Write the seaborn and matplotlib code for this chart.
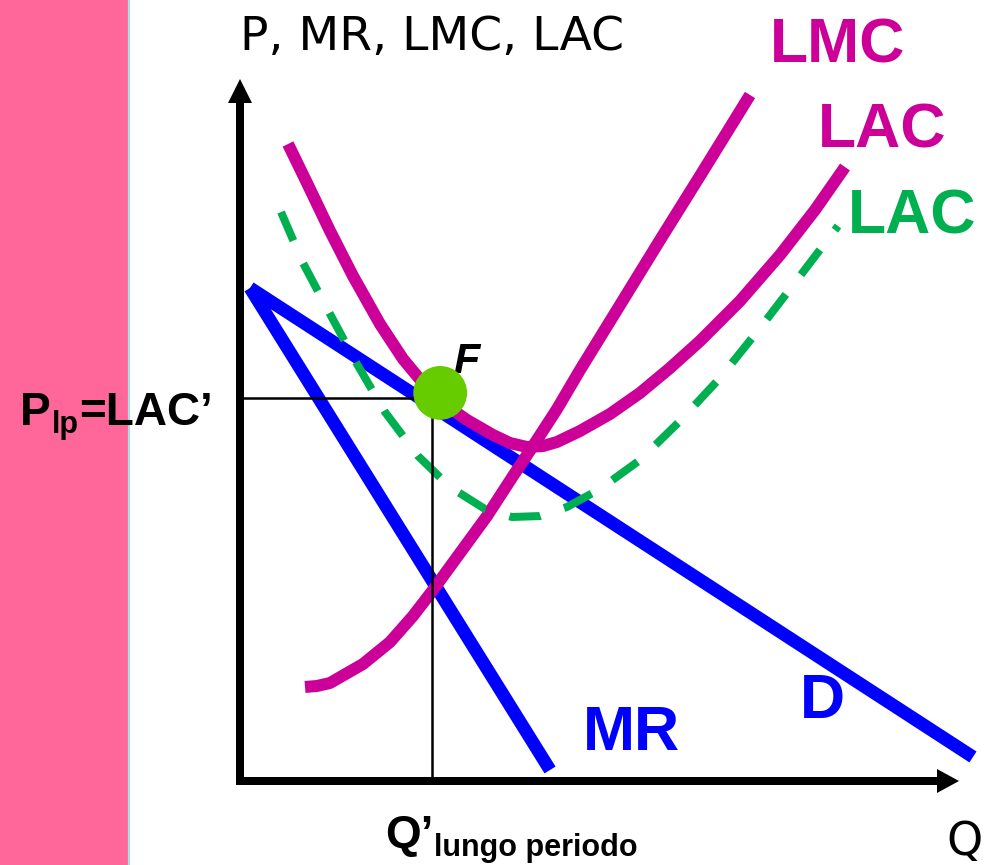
import numpy as np
import pandas as pd
import matplotlib
matplotlib.use("Agg")
import matplotlib.pyplot as plt
import seaborn as sns

# ---- data (Q, P units) ----
d_q = [1.43, 104.71]
d_p = [70.29, 3.29]
mr_q = [1.43, 44.29]
mr_p = [70.29, 1.43]

lmc_q = [9.29, 11.00, 12.86, 17.57, 21.43, 24.71, 27.57, 31.43, 35.29, 39.00, 41.86, 45.29,
         48.57, 54.29, 60.00, 65.71, 72.86]
lmc_p = [13.29, 13.43, 13.86, 16.57, 19.71, 23.43, 27.14, 32.43, 37.71, 43.43, 47.71, 53.00,
         58.57, 67.86, 77.14, 86.29, 97.86]

lac_q = [6.86, 9.57, 12.86, 16.14, 20.00, 23.29, 26.14, 28.57, 32.43, 36.14, 38.57, 41.00,
         43.29, 45.29, 48.57, 52.86, 57.14, 61.43, 65.71, 71.43, 77.14, 82.14, 86.43]
lac_p = [90.86, 85.29, 78.43, 72.00, 65.14, 60.14, 56.71, 54.14, 51.43, 49.29, 48.14, 47.57,
         47.71, 48.29, 49.86, 52.29, 55.29, 58.86, 62.71, 68.43, 75.00, 81.43, 87.57]

lac2_q = [5.86, 9.00, 12.86, 16.71, 20.71, 25.43, 30.00, 35.00, 38.86, 42.86, 46.71, 51.43,
          57.14, 62.86, 68.57, 74.29, 80.00, 85.43]
lac2_p = [81.14, 73.86, 66.57, 59.43, 52.57, 46.29, 41.86, 38.71, 37.57, 37.71, 39.00, 41.57,
          45.71, 51.29, 57.43, 64.57, 72.00, 79.14]

q_lp, p_lp = 27.43, 54.57
e_q, e_p = 28.6, 55.3

MAG = "#cc0099"
BLUE = "#0000ff"
GREEN = "#00b050"
BLOB = "#66cc00"
PINK = "#ff6699"

sns.set_theme(style="white")
plt.rcParams["font.family"] = ["DejaVu Sans"]
plt.rcParams["text.color"] = "black"

W, H = 987, 865
fig = plt.figure(figsize=(W / 100, H / 100), dpi=100)
ax = fig.add_axes([0, 0, 1, 1])
S = 7.0
ax.set_xlim(-240 / S, (W - 240) / S)
ax.set_ylim(-(H - 780) / S, 780 / S)
ax.axis("off")


def at(px, py):
    return ((px - 240) / S, (780 - py) / S)


# pink band
ax.axvspan(-240 / S, (128 - 240) / S, color=PINK, lw=0, zorder=0)
ax.axvline((129.5 - 240) / S, color="#a9dbe6", lw=1.6, zorder=0)

# axes arrows
ax.arrow(0, -4 / S, 0, (784 - 79) / S, width=8 / S, head_width=24 / S, head_length=24 / S,
         length_includes_head=True, fc="black", ec="none", zorder=3)
ax.arrow(-4 / S, -1 / S, (959 - 236) / S, 0, width=8 / S, head_width=24 / S, head_length=22 / S,
         length_includes_head=True, fc="black", ec="none", zorder=3)

lw_thick = 12 * 0.72


def line(xs, ys, color, lw, **kw):
    df = pd.DataFrame({"Q": xs, "P": ys})
    sns.lineplot(data=df, x="Q", y="P", sort=False, estimator=None, color=color,
                 lw=lw, ax=ax, legend=False, **kw)


line(mr_q, mr_p, BLUE, 13 * 0.72, solid_capstyle="butt", zorder=4)
line(d_q, d_p, BLUE, 13 * 0.72, solid_capstyle="butt", zorder=4)
line(lmc_q, lmc_p, MAG, lw_thick, solid_capstyle="butt", solid_joinstyle="round", zorder=5)
line(lac_q, lac_p, MAG, lw_thick, solid_capstyle="butt", solid_joinstyle="round", zorder=5)
line(lac2_q, lac2_p, GREEN, 8 * 0.72, linestyle=(0, (3.9, 3.1)), dash_capstyle="butt",
     dash_joinstyle="round", zorder=6)

# guide lines
ax.plot([0.5, q_lp], [p_lp, p_lp], color="black", lw=1.8, zorder=7)
ax.plot([q_lp, q_lp], [p_lp, 0], color="black", lw=1.8, zorder=7)

# F label and blob
ax.text(*at(453, 373), "F", fontsize=31, fontweight="bold", fontstyle="italic",
        family=["Liberation Sans"], color="black", ha="left", va="baseline", zorder=7)
ax.scatter([e_q], [e_p], s=1500, color=BLOB, edgecolor="none", zorder=8)

# texts
ax.text(*at(240, 50), "P, MR, LMC, LAC", fontsize=34, color="black", ha="left", va="baseline")
bold = dict(fontsize=45, fontweight="bold", family=["Liberation Sans"], ha="left", va="baseline")
ax.text(*at(770, 62), "LMC", color=MAG, **bold)
ax.text(*at(818, 148), "LAC", color=MAG, **bold)
ax.text(*at(848, 233), "LAC", color=GREEN, **bold)
ax.text(*at(800, 718), "D", color=BLUE, **bold)
ax.text(*at(583, 750), "MR", color=BLUE, **bold)

b2 = dict(fontweight="bold", family=["Liberation Sans"], ha="left", va="baseline", color="black", zorder=9)
ax.text(*at(20, 425), "P", fontsize=33, **b2)
ax.text(*at(52, 433), "lp", fontsize=22, **b2)
ax.text(*at(79, 425), "=LAC\u2019", fontsize=33, **b2)

ax.text(*at(385, 848), "Q\u2019", fontsize=33, **b2)
ax.text(*at(434, 856), "lungo periodo", fontsize=22,
        fontweight="bold", family=["Liberation Sans Narrow", "Liberation Sans"],
        ha="left", va="baseline", color="black")
ax.text(*at(946, 855), "Q", fontsize=33, color="black", ha="left", va="baseline")

fig.savefig("out.png", dpi=100)
